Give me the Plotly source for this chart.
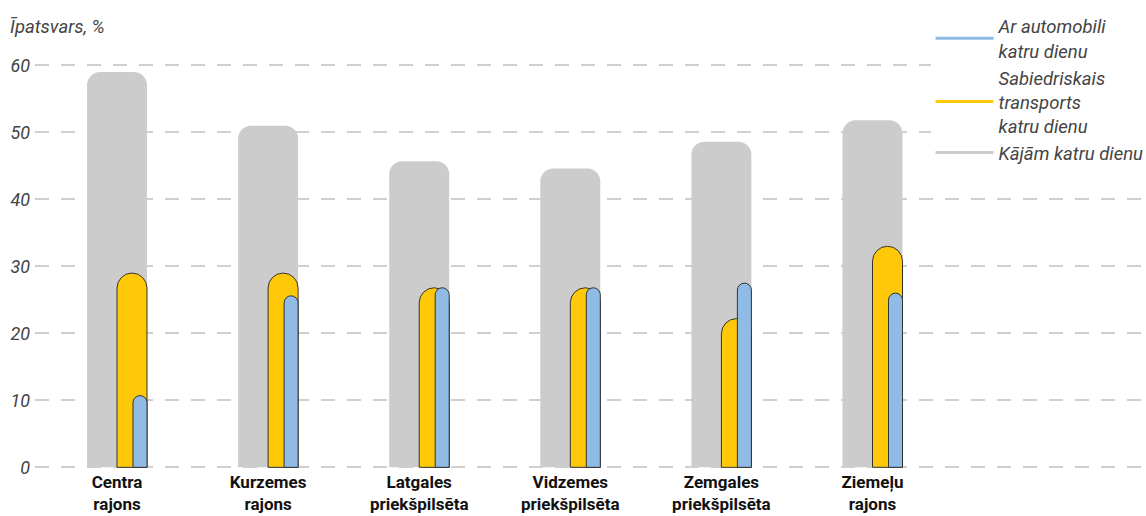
import plotly.graph_objects as go

# Districts of the city (x-axis categories)
districts = [
    "Centra<br>rajons",
    "Kurzemes<br>rajons",
    "Latgales<br>priekšpilsēta",
    "Vidzemes<br>priekšpilsēta",
    "Zemgales<br>priekšpilsēta",
    "Ziemeļu<br>rajons",
]

# Share of residents (%) by mode of daily travel
walking = [59.0, 51.0, 45.7, 44.6, 48.6, 51.8]
public_transport = [29.0, 29.0, 26.8, 26.8, 22.2, 33.0]
car = [10.7, 25.6, 26.8, 26.8, 27.5, 26.0]

series_names = ["Ar automobili<br>katru dienu",
                "Sabiedriskais<br>transports<br>katru dienu",
                "Kājām katru dienu"]

y_ticks = [0, 10, 20, 30, 40, 50, 60]

GREY = "#cccccc"
YELLOW = "#ffc808"
BLUE = "#8fbbe4"
OUTLINE = "#333333"
FONT = "Roboto"

xs = list(range(len(districts)))
fig = go.Figure()

fig.add_trace(go.Bar(
    x=xs, y=walking, width=0.397, offset=-0.1985,
    marker=dict(color=GREY, line=dict(width=0), cornerradius=13),
    showlegend=False, hoverinfo="y",
))
fig.add_trace(go.Bar(
    x=xs, y=public_transport, width=0.1985, offset=0.0,
    marker=dict(color=YELLOW, line=dict(color=OUTLINE, width=1), cornerradius="50%"),
    showlegend=False, hoverinfo="y",
))
fig.add_trace(go.Bar(
    x=xs, y=car, width=0.0927, offset=0.1058,
    marker=dict(color=BLUE, line=dict(color=OUTLINE, width=1), cornerradius="50%"),
    showlegend=False, hoverinfo="y",
))

# Legend entries drawn as line swatches
for name, col in zip(series_names, [BLUE, YELLOW, GREY]):
    fig.add_trace(go.Scatter(
        x=[None], y=[None], mode="lines", name=name,
        line=dict(color=col, width=3),
    ))

fig.update_layout(
    width=1146, height=516,
    margin=dict(l=35, r=0, t=52, b=46, autoexpand=False),
    paper_bgcolor="white", plot_bgcolor="white",
    barmode="overlay",
    font=dict(family=FONT, size=18, color="#444444"),
    xaxis=dict(
        range=[-0.5427, 6.81],
        tickvals=xs, ticktext=districts,
        tickfont=dict(family=FONT, size=17, color="#111111", weight="bold"),
        showgrid=False, zeroline=False, showline=False, ticks="",
        ticklabelstandoff=0,
    ),
    yaxis=dict(
        range=[-0.4, 62],
        tickvals=y_ticks,
        tickfont=dict(family=FONT, size=18, color="#444444", style="italic"),
        showgrid=True, gridcolor="#d0d0d0", gridwidth=1.5, griddash="14px,12px",
        zeroline=False, showline=False, ticks="", ticklabelstandoff=4,
    ),
    legend=dict(
        xref="container", yref="container",
        x=0.812, y=0.985, xanchor="left", yanchor="top",
        bgcolor="white",
        font=dict(family=FONT, size=18.5, color="#444444", style="italic"),
        itemwidth=58,
        traceorder="normal",
    ),
    annotations=[dict(
        text="Īpatsvars, %", xref="paper", yref="paper",
        x=-27 / 1111, y=(516 - 27 - 46) / 418, xanchor="left", yanchor="middle",
        showarrow=False,
        font=dict(family=FONT, size=18.5, color="#444444", style="italic"),
    )],
)

fig.write_html("out.html")
